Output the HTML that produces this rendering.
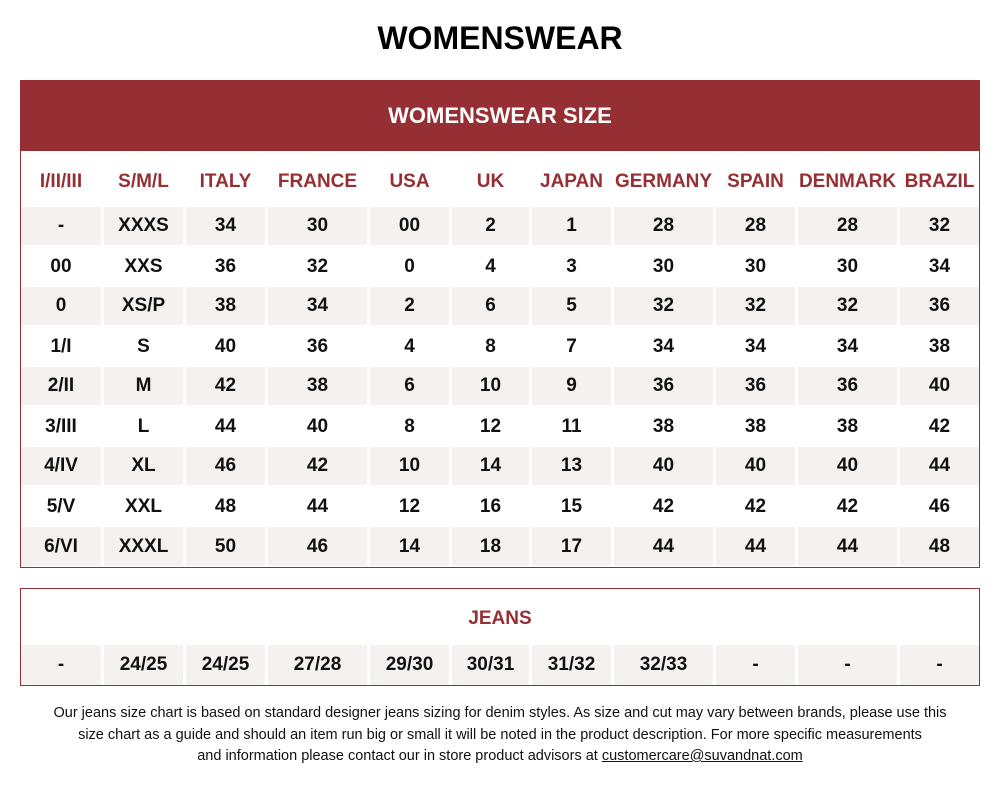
<!DOCTYPE html>
<html><head><meta charset="utf-8"><style>
body{margin:0;width:1000px;height:788px;background:#fff;font-family:"Liberation Sans",sans-serif;position:relative;overflow:hidden}
.a{position:absolute}
.title{left:0;width:1000px;top:20px;text-align:center;font-size:32px;font-weight:bold;color:#000}
.box{border:1px solid #962f33;box-sizing:border-box}
.c{position:absolute;display:flex;align-items:center;justify-content:center;font-weight:bold;font-size:19px;color:#111;white-space:nowrap}
.h{color:#962f33;font-size:19px}
.foot{left:0;width:1000px;top:703px;text-align:center;font-size:14.5px;line-height:21.5px;color:#111}
</style></head><body>
<div class="a title">WOMENSWEAR</div>
<div class="a box" style="left:20px;top:80px;width:960px;height:488px"></div>
<div class="a" style="left:20px;top:80px;width:960px;height:71px;background:#962f33;color:#fff;font-weight:bold;font-size:22px;display:flex;align-items:center;justify-content:center">WOMENSWEAR SIZE</div>
<div class="a box" style="left:20px;top:588px;width:960px;height:98px"></div>
<div class="a" style="left:20px;top:608px;width:960px;text-align:center;font-weight:bold;font-size:19px;color:#962f33">JEANS</div>
<div class="a foot">Our jeans size chart is based on standard designer jeans sizing for denim styles. As size and cut may vary between brands, please use this<br>size chart as a guide and should an item run big or small it will be noted in the product description. For more specific measurements<br>and information please contact our in store product advisors at <span style="text-decoration:underline">customercare@suvandnat.com</span></div>
<div id="cells"></div>
<script>
const headers=["I/II/III","S/M/L","ITALY","FRANCE","USA","UK","JAPAN","GERMANY","SPAIN","DENMARK","BRAZIL"];
const rows=[
["-","XXXS","34","30","00","2","1","28","28","28","32"],
["00","XXS","36","32","0","4","3","30","30","30","34"],
["0","XS/P","38","34","2","6","5","32","32","32","36"],
["1/I","S","40","36","4","8","7","34","34","34","38"],
["2/II","M","42","38","6","10","9","36","36","36","40"],
["3/III","L","44","40","8","12","11","38","38","38","42"],
["4/IV","XL","46","42","10","14","13","40","40","40","44"],
["5/V","XXL","48","44","12","16","15","42","42","42","46"],
["6/VI","XXXL","50","46","14","18","17","44","44","44","48"]];
const jeans=["-","24/25","24/25","27/28","29/30","30/31","31/32","32/33","-","-","-"];
const edges=[21,104,186,268,370,452,532,614,716,798,900,979];
const host=document.getElementById('cells');
function cell(txt,i,y,h,bg,cls){
  const d=document.createElement('div');
  
  
  d.className='c '+(cls||'');
  d.style.left=edges[i]+'px';d.style.width=(edges[i+1]-edges[i]-(i<10?3:0))+'px';
  d.style.top=y+'px';d.style.height=h+'px';
  if(bg)d.style.background=bg;
  d.textContent=txt;host.appendChild(d);
}
headers.forEach((t,i)=>cell(t,i,154,55,null,'h'));
rows.forEach((r,ri)=>r.forEach((t,i)=>cell(t,i,207+ri*40,ri==8?39:(ri%2==0?38:40),ri%2==0?'#f6f1f1':null)));
jeans.forEach((t,i)=>cell(t,i,645,40,'#f6f1f1'));
</script>
</body></html>
